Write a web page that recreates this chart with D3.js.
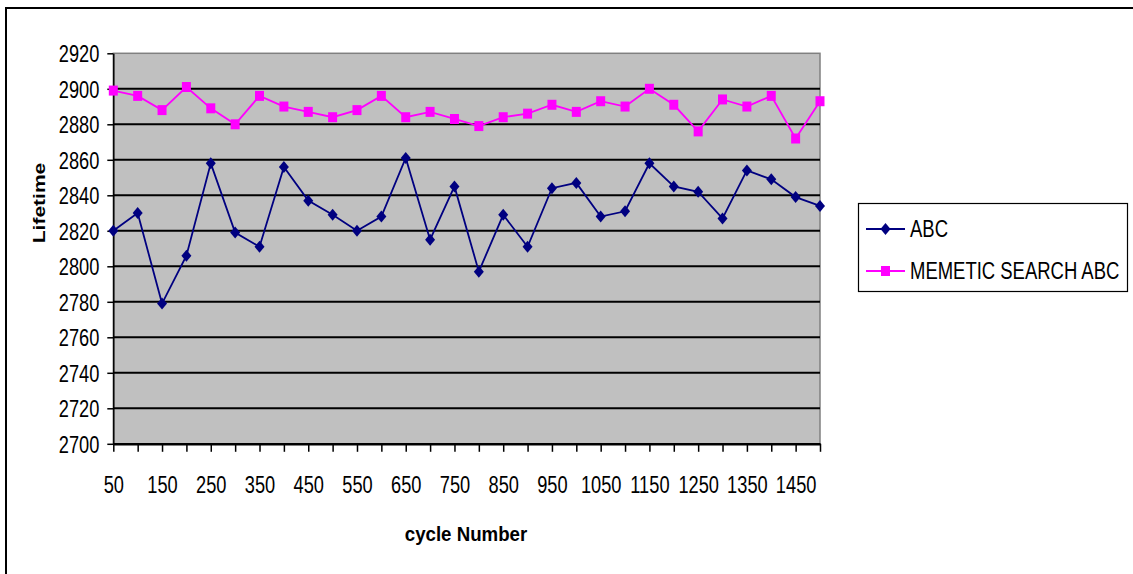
<!DOCTYPE html>
<html>
<head>
<meta charset="utf-8">
<script src="https://cdn.jsdelivr.net/npm/d3@7"></script>
<style>
  html, body { margin: 0; padding: 0; background: #fff; }
  svg { display: block; }
  text { font-family: "Liberation Sans", Arial, sans-serif; fill: #000; }
</style>
</head>
<body>
<svg id="chart" width="1133" height="574"></svg>
<script>
// Cycle numbers on the category axis
const cycles = [50, 100, 150, 200, 250, 300, 350, 400, 450, 500,
                550, 600, 650, 700, 750, 800, 850, 900, 950, 1000,
                1050, 1100, 1150, 1200, 1250, 1300, 1350, 1400, 1450, 1500];

// Lifetime per cycle, plain ABC
const abcLifetime = [2820, 2830, 2779, 2806, 2858, 2819, 2811, 2856, 2837, 2829,
                     2820, 2828, 2861, 2815, 2845, 2797, 2829, 2811, 2844, 2847,
                     2828, 2831, 2858, 2845, 2842, 2827, 2854, 2849, 2839, 2834];

// Lifetime per cycle, memetic search ABC
const memeticLifetime = [2899, 2896, 2888, 2901, 2889, 2880, 2896, 2890, 2887, 2884,
                         2888, 2896, 2884, 2887, 2883, 2879, 2884, 2886, 2891, 2887,
                         2893, 2890, 2900, 2891, 2876, 2894, 2890, 2896, 2872, 2893];

const yTickValues = [2700, 2720, 2740, 2760, 2780, 2800, 2820, 2840, 2860, 2880, 2900, 2920];
const xTickLabels = [50, 150, 250, 350, 450, 550, 650, 750, 850, 950, 1050, 1150, 1250, 1350, 1450];

const seriesNames = ["ABC", "MEMETIC SEARCH ABC"];

const svg = d3.select("#chart");
const SQ = 0.76; // horizontal condensing of the lettering

const plot = { left: 113.3, right: 820, top: 53.3, bottom: 443.8 };

const x = d3.scalePoint().domain(cycles).range([plot.left, plot.right]);
const y = d3.scaleLinear().domain([2700, 2920]).range([plot.bottom, plot.top]);

// outer chart frame
svg.append("rect")
  .attr("x", 6).attr("y", 8)
  .attr("width", 1200).attr("height", 600)
  .attr("fill", "#fff").attr("stroke", "#000").attr("stroke-width", 2);

// plot area
svg.append("rect")
  .attr("x", plot.left).attr("y", plot.top)
  .attr("width", plot.right - plot.left).attr("height", plot.bottom - plot.top)
  .attr("fill", "#c0c0c0").attr("stroke", "#808080").attr("stroke-width", 1.5);

// horizontal gridlines
svg.append("g").selectAll("line")
  .data(yTickValues.filter(v => v > 2700 && v < 2920))
  .join("line")
  .attr("x1", plot.left).attr("x2", plot.right)
  .attr("y1", d => y(d)).attr("y2", d => y(d))
  .attr("stroke", "#000").attr("stroke-width", 2);

// y axis
const yAxis = svg.append("g")
  .attr("transform", `translate(${plot.left},0)`)
  .call(d3.axisLeft(y).tickValues(yTickValues).tickSize(6).tickSizeOuter(0).tickPadding(0));
yAxis.select(".domain").attr("stroke", "#000").attr("stroke-width", 1.5);
yAxis.selectAll(".tick line").attr("stroke", "#000").attr("stroke-width", 1.5);
yAxis.selectAll(".tick text").remove();
yAxis.selectAll(".tick").append("text")
  .attr("text-anchor", "end")
  .attr("font-size", 24)
  .attr("dy", "0.35em")
  .attr("transform", `translate(-14,0) scale(${SQ},1)`)
  .text(d => d);

// x axis
const xAxis = svg.append("g")
  .attr("transform", `translate(0,${plot.bottom})`)
  .call(d3.axisBottom(x).tickSize(8).tickSizeOuter(0).tickPadding(0));
xAxis.select(".domain").attr("stroke", "#000").attr("stroke-width", 2.5);
xAxis.selectAll(".tick line").attr("stroke", "#000").attr("stroke-width", 1.5);
xAxis.selectAll(".tick text").remove();
xAxis.selectAll(".tick")
  .filter(d => xTickLabels.includes(d))
  .append("text")
  .attr("text-anchor", "middle")
  .attr("font-size", 24)
  .attr("transform", `translate(0,49) scale(${SQ},1)`)
  .text(d => d);

// axis titles
svg.append("text")
  .attr("text-anchor", "middle")
  .attr("font-size", 21).attr("font-weight", "bold")
  .attr("transform", `translate(466,541) scale(0.89,1)`)
  .text("cycle Number");

svg.append("text")
  .attr("text-anchor", "middle")
  .attr("font-size", 21).attr("font-weight", "bold")
  .attr("transform", `translate(45,203) scale(${SQ},1) rotate(-90)`)
  .text("Lifetime");

// marker shapes
const diamond = (w, h) => `M0,${-h / 2}L${w / 2},0L0,${h / 2}L${-w / 2},0Z`;
const square = (w, h) => `M${-w / 2},${-h / 2}h${w}v${h}h${-w}Z`;

const series = [
  { name: seriesNames[0], values: abcLifetime, color: "#000080", marker: diamond(10, 12) },
  { name: seriesNames[1], values: memeticLifetime, color: "#ff00ff", marker: square(9, 10) }
];

const line = d3.line().x((d, i) => x(cycles[i])).y(d => y(d));

series.forEach(s => {
  const g = svg.append("g");
  g.append("path")
    .attr("d", line(s.values))
    .attr("fill", "none")
    .attr("stroke", s.color)
    .attr("stroke-width", 1.8);
  g.selectAll("path.mk")
    .data(s.values)
    .join("path")
    .attr("class", "mk")
    .attr("d", s.marker)
    .attr("transform", (d, i) => `translate(${x(cycles[i])},${y(d)})`)
    .attr("fill", s.color);
});

// legend
const legend = svg.append("g");
legend.append("rect")
  .attr("x", 858.5).attr("y", 203.5)
  .attr("width", 269).attr("height", 88)
  .attr("fill", "#fff").attr("stroke", "#000").attr("stroke-width", 1.2);

series.forEach((s, i) => {
  const cy = 229 + i * 42;
  const g = legend.append("g").attr("transform", `translate(0,${cy})`);
  g.append("line")
    .attr("x1", 866).attr("x2", 905)
    .attr("stroke", s.color).attr("stroke-width", 1.8);
  g.append("path")
    .attr("d", s.marker)
    .attr("transform", "translate(885.5,0)")
    .attr("fill", s.color);
  g.append("text")
    .attr("font-size", 24)
    .attr("dy", "0.35em")
    .attr("transform", `translate(910,0) scale(0.77,1)`)
    .text(s.name);
});
</script>
</body>
</html>
